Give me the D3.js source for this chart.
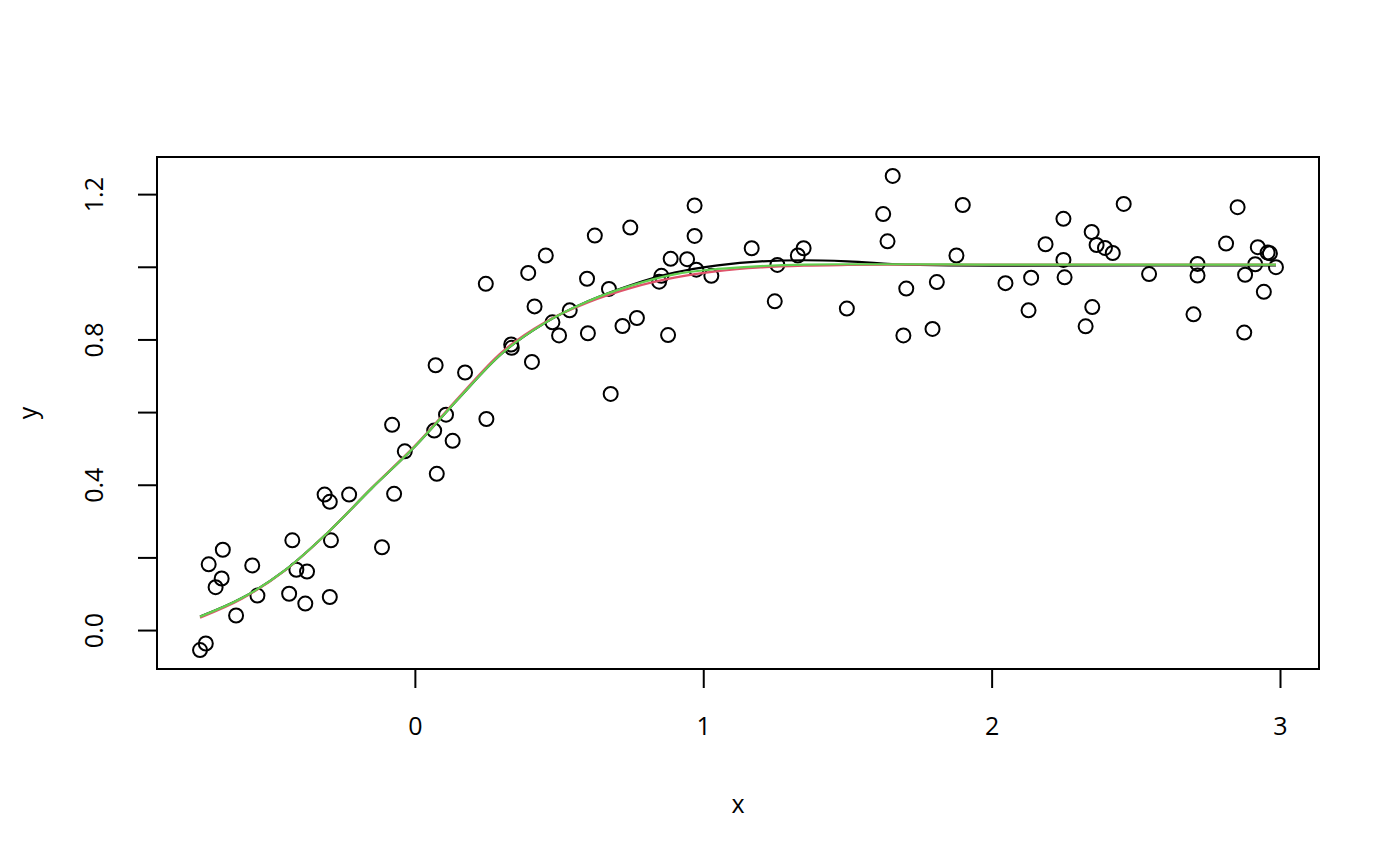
<!DOCTYPE html>
<html>
<head>
<meta charset="utf-8">
<script src="https://cdn.jsdelivr.net/npm/d3@7"></script>
<style>
  body { margin: 0; background: #fff; }
  text { font-family: "Open Sans", sans-serif; }
</style>
</head>
<body>
<div id="chart"></div>
<script>
// scatter points
const ptX = [-0.745, -0.725, -0.620, -0.715, -0.666, -0.670, -0.691, -0.564, -0.546, -0.425,
             -0.411, -0.374, -0.436, -0.380, -0.295, -0.291, -0.313, -0.295, -0.228, -0.114,
             -0.072, -0.079, -0.035, 0.076, 0.067, 0.131, 0.108, 0.072, 0.174, 0.248,
             0.246, 0.334, 0.336, 0.406, 0.393, 0.454, 0.415, 0.477, 0.500, 0.537,
             0.600, 0.597, 0.624, 0.673, 0.679, 0.720, 0.770, 0.747, 0.878, 0.847,
             0.855, 0.887, 0.944, 0.970, 0.976, 0.970, 1.028, 1.168, 1.257, 1.248,
             1.328, 1.348, 1.498, 1.657, 1.624, 1.639, 1.704, 1.694, 1.810, 1.795,
             1.900, 1.878, 2.048, 2.137, 2.128, 2.187, 2.249, 2.249, 2.253, 2.347,
             2.364, 2.393, 2.420, 2.349, 2.326, 2.458, 2.546, 2.714, 2.714, 2.700,
             2.813, 2.853, 2.923, 2.914, 2.879, 2.944, 2.876, 2.957, 2.965, 2.986];
const ptY = [-0.055, -0.037, 0.040, 0.181, 0.221, 0.142, 0.118, 0.178, 0.095, 0.247,
             0.166, 0.161, 0.100, 0.073, 0.091, 0.247, 0.373, 0.353, 0.373, 0.228,
             0.375, 0.565, 0.492, 0.430, 0.549, 0.521, 0.593, 0.729, 0.709, 0.581,
             0.953, 0.786, 0.777, 0.738, 0.983, 1.031, 0.891, 0.847, 0.811, 0.880,
             0.817, 0.967, 1.086, 0.939, 0.650, 0.837, 0.859, 1.108, 0.812, 0.959,
             0.975, 1.022, 1.021, 1.085, 0.992, 1.169, 0.975, 1.051, 1.005, 0.905,
             1.031, 1.051, 0.885, 1.250, 1.145, 1.070, 0.940, 0.811, 0.958, 0.829,
             1.170, 1.031, 0.955, 0.970, 0.880, 1.062, 1.132, 1.019, 0.971, 1.096,
             1.060, 1.052, 1.038, 0.889, 0.836, 1.173, 0.980, 1.008, 0.976, 0.869,
             1.064, 1.164, 1.054, 1.007, 0.978, 0.931, 0.819, 1.039, 1.037, 0.999];

// fitted curves, sampled along x
const curveX   = [-0.745, -0.6, -0.45, -0.3, -0.15, 0, 0.15, 0.3, 0.45, 0.6, 0.75, 0.9, 1.05, 1.2, 1.35, 1.5, 1.7, 2.0, 2.5, 2.986];
const fitBlack = [0.037, 0.088, 0.165, 0.270, 0.390, 0.505, 0.636, 0.760, 0.845, 0.905, 0.950, 0.984, 1.004, 1.015, 1.018, 1.015, 1.006, 1.003, 1.004, 1.004];
const fitRed   = [0.034, 0.086, 0.164, 0.270, 0.391, 0.507, 0.639, 0.764, 0.847, 0.902, 0.942, 0.970, 0.988, 0.998, 1.003, 1.005, 1.006, 1.006, 1.006, 1.006];
const fitGreen = [0.037, 0.088, 0.165, 0.270, 0.390, 0.505, 0.636, 0.760, 0.845, 0.905, 0.948, 0.979, 0.994, 1.002, 1.006, 1.007, 1.007, 1.006, 1.006, 1.006];

const xTicks = [0, 1, 2, 3];
const yTicks = [0, 0.2, 0.4, 0.6, 0.8, 1.0, 1.2];
const yTickLabels = ["0.0", "0.4", "0.8", "1.2"];

const W = 1400, H = 866;
const box = {left: 157, top: 157, right: 1319, bottom: 669};

const svg = d3.select("#chart").append("svg")
    .attr("width", W)
    .attr("height", H);

// R style: data range extended by 4% each side
function padded(vals) {
    const e = d3.extent(vals);
    const p = (e[1] - e[0]) * 0.04;
    return [e[0] - p, e[1] + p];
}

const x = d3.scaleLinear().domain(padded(ptX)).range([box.left, box.right]);
const y = d3.scaleLinear().domain(padded(ptY)).range([box.bottom, box.top]);

// points
svg.append("g").selectAll("circle")
    .data(ptX.map((d, i) => [d, ptY[i]]))
    .enter().append("circle")
    .attr("cx", d => x(d[0]))
    .attr("cy", d => y(d[1]))
    .attr("r", 7)
    .attr("fill", "none")
    .attr("stroke", "#000")
    .attr("stroke-width", 2);

// curves
const line = d3.line()
    .x(d => x(d[0]))
    .y(d => y(d[1]))
    .curve(d3.curveMonotoneX);

[[fitBlack, "#000000"], [fitRed, "#DF536B"], [fitGreen, "#61D04F"]].forEach(c => {
    svg.append("path")
        .datum(curveX.map((v, i) => [v, c[0][i]]))
        .attr("d", line)
        .attr("fill", "none")
        .attr("stroke", c[1])
        .attr("stroke-width", 2.2);
});

// plot box
svg.append("rect")
    .attr("x", box.left)
    .attr("y", box.top)
    .attr("width", box.right - box.left)
    .attr("height", box.bottom - box.top)
    .attr("fill", "none")
    .attr("stroke", "#000")
    .attr("stroke-width", 2);

// x axis
const gx = svg.append("g")
    .attr("transform", "translate(0," + box.bottom + ")")
    .call(d3.axisBottom(x).tickValues(xTicks).tickSize(19).tickFormat(d3.format("d")));
gx.select(".domain").remove();
gx.selectAll(".tick line").attr("stroke", "#000").attr("stroke-width", 2);
gx.selectAll(".tick text")
    .attr("y", 66)
    .attr("dy", null)
    .attr("fill", "#000")
    .style("font-size", "25px")
    .style("font-family", "'Open Sans', sans-serif");

// y axis
const gy = svg.append("g")
    .attr("transform", "translate(" + box.left + ",0)")
    .call(d3.axisLeft(y).tickValues(yTicks).tickSize(19)
        .tickFormat(d => {
            const s = d3.format(".1f")(d);
            return yTickLabels.includes(s) ? s : "";
        }));
gy.select(".domain").remove();
gy.selectAll(".tick line").attr("stroke", "#000").attr("stroke-width", 2);
gy.selectAll(".tick text")
    .attr("x", null)
    .attr("dy", null)
    .attr("transform", "translate(-54,0) rotate(-90)")
    .attr("text-anchor", "middle")
    .attr("fill", "#000")
    .style("font-size", "25px")
    .style("font-family", "'Open Sans', sans-serif");

// axis titles
svg.append("text")
    .attr("x", (box.left + box.right) / 2)
    .attr("y", 813)
    .attr("text-anchor", "middle")
    .style("font-size", "25px")
    .text("x");

svg.append("text")
    .attr("transform", "translate(37," + (box.top + box.bottom) / 2 + ") rotate(-90)")
    .attr("text-anchor", "middle")
    .style("font-size", "25px")
    .text("y");
</script>
</body>
</html>
